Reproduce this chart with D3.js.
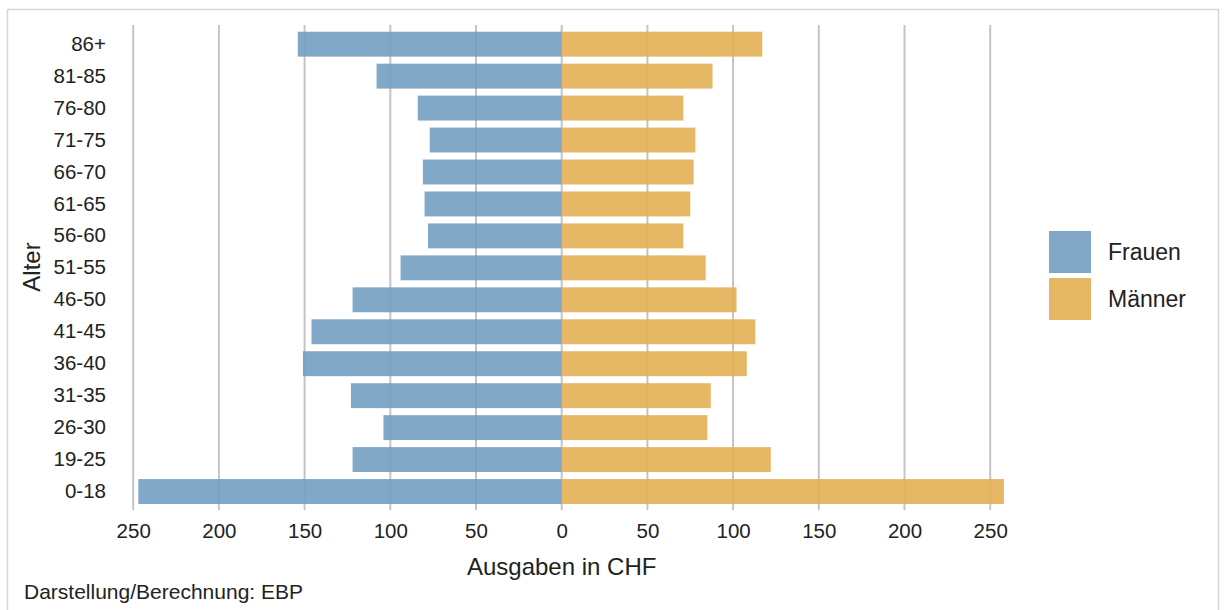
<!DOCTYPE html>
<html>
<head>
<meta charset="utf-8">
<script src="https://cdn.jsdelivr.net/npm/d3@7"></script>
<style>
  html, body { margin: 0; padding: 0; background: #fff; }
  svg { display: block; font-family: "Liberation Sans", Arial, Helvetica, sans-serif; }
</style>
</head>
<body>
<svg id="chart" width="1224" height="610"></svg>
<script>
// Age groups, top to bottom
const ageGroups = ["86+", "81-85", "76-80", "71-75", "66-70", "61-65", "56-60", "51-55",
                   "46-50", "41-45", "36-40", "31-35", "26-30", "19-25", "0-18"];
// Spending in CHF per age group
const frauen = [154, 108, 84, 77, 81, 80, 78, 94, 122, 146, 151, 123, 104, 122, 247];
const maenner = [117, 88, 71, 78, 77, 75, 71, 84, 102, 113, 108, 87, 85, 122, 258];
const tickValues = [-250, -200, -150, -100, -50, 0, 50, 100, 150, 200, 250];
const seriesNames = ["Frauen", "Männer"];
const seriesColors = ["#749ec2", "#e3b054"];

const svg = d3.select("#chart");

// outer frame
svg.append("rect")
  .attr("x", 7.5).attr("y", 9.5)
  .attr("width", 1211).attr("height", 620)
  .attr("fill", "none").attr("stroke", "#d6d6d6").attr("stroke-width", 1.5);

const x = d3.scaleLinear().domain([-250, 250]).range([133.2, 990.2]);
const y = d3.scaleBand().domain(ageGroups).range([28.2, 507.5])
  .paddingInner(0.22).paddingOuter(0.11);

// vertical gridlines
svg.append("g").selectAll("line").data(tickValues).join("line")
  .attr("x1", d => x(d)).attr("x2", d => x(d))
  .attr("y1", 25).attr("y2", 510)
  .attr("stroke", "#c4c4c4").attr("stroke-width", 2);

// bars
const bars = svg.append("g").attr("fill-opacity", 0.9);
bars.selectAll("rect.f").data(ageGroups).join("rect").attr("class", "f")
  .attr("x", (d, i) => x(-frauen[i]))
  .attr("width", (d, i) => x(0) - x(-frauen[i]))
  .attr("y", d => y(d)).attr("height", y.bandwidth())
  .attr("fill", seriesColors[0]);
bars.selectAll("rect.m").data(ageGroups).join("rect").attr("class", "m")
  .attr("x", x(0))
  .attr("width", (d, i) => x(maenner[i]) - x(0))
  .attr("y", d => y(d)).attr("height", y.bandwidth())
  .attr("fill", seriesColors[1]);

// x axis labels
const xAxis = svg.append("g").attr("transform", "translate(0,510)")
  .call(d3.axisBottom(x).tickValues(tickValues).tickFormat(d => Math.abs(d)).tickSize(0).tickPadding(13));
xAxis.select(".domain").remove();
xAxis.selectAll("text").attr("font-size", 20.5).attr("fill", "#222").attr("font-family", null);

// y axis labels
const yAxis = svg.append("g").attr("transform", "translate(106,0)")
  .call(d3.axisLeft(y).tickSize(0).tickPadding(0));
yAxis.select(".domain").remove();
yAxis.selectAll("text").attr("font-size", 20.5).attr("fill", "#222").attr("font-family", null);

// axis titles
svg.append("text")
  .attr("x", x(0)).attr("y", 567).attr("dy", "0.35em")
  .attr("text-anchor", "middle").attr("font-size", 24).attr("fill", "#222")
  .text("Ausgaben in CHF");
svg.append("text")
  .attr("transform", "translate(32,267) rotate(-90)").attr("dy", "0.35em")
  .attr("text-anchor", "middle").attr("font-size", 24).attr("fill", "#222")
  .text("Alter");

// legend
const legend = svg.append("g").attr("transform", "translate(1049,231)");
seriesNames.forEach((name, i) => {
  const g = legend.append("g").attr("transform", `translate(0,${i * 47})`);
  g.append("rect").attr("width", 42).attr("height", 42)
    .attr("fill", seriesColors[i]).attr("fill-opacity", 0.9);
  g.append("text").attr("x", 59).attr("y", 21).attr("dy", "0.35em")
    .attr("font-size", 23).attr("fill", "#222").text(name);
});

// source note
svg.append("text")
  .attr("x", 24).attr("y", 592).attr("dy", "0.35em")
  .attr("font-size", 21).attr("fill", "#222")
  .text("Darstellung/Berechnung: EBP");
</script>
</body>
</html>
